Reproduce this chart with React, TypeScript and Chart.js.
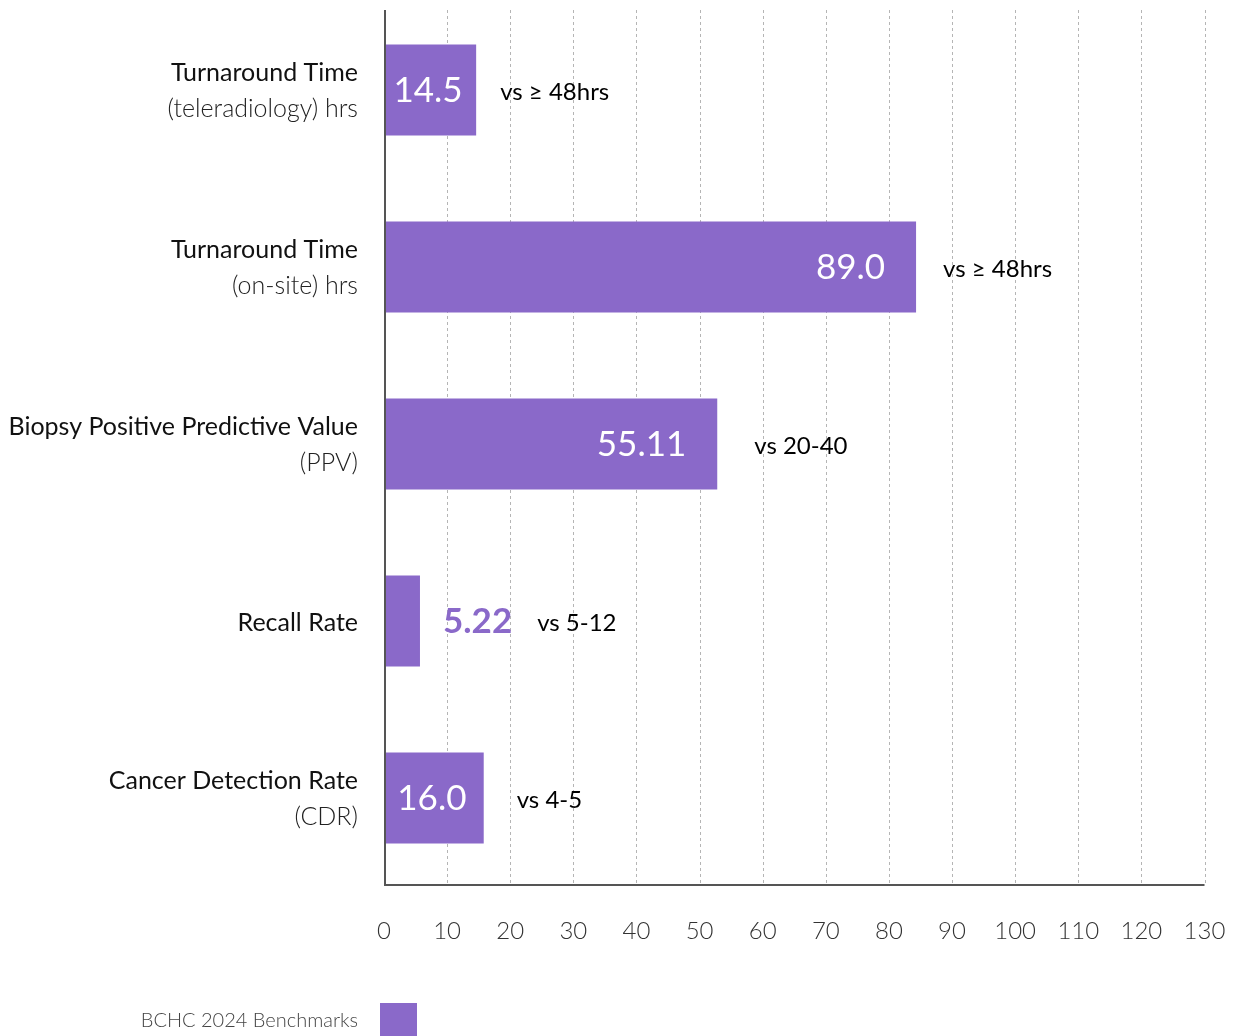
import { useEffect, useRef } from "react";
import { Chart, registerables } from "chart.js";

Chart.register(...registerables);

// ---------------- data ----------------
const categoryTitles = [
  "Turnaround Time",
  "Turnaround Time",
  "Biopsy Positive Predictive Value",
  "Recall Rate",
  "Cancer Detection Rate",
];
const categorySubtitles = ["(teleradiology) hrs", "(on-site) hrs", "(PPV)", "", "(CDR)"];
const barValues = [14.6, 84.3, 52.8, 5.7, 15.8];
const valueLabels = ["14.5", "89.0", "55.11", "5.22", "16.0"];
const benchmarkLabels = ["vs ≥ 48hrs", "vs ≥ 48hrs", "vs 20-40", "vs 5-12", "vs 4-5"];
const xTickValues = [0, 10, 20, 30, 40, 50, 60, 70, 80, 90, 100, 110, 120, 130];
const seriesName = "BCHC 2024 Benchmarks";

// ---------------- styles ----------------
const FONT = "Lato, 'Open Sans', sans-serif";
const BAR_COLOR = "#8A69C9";
const benchmarkGaps = [24, 27, 37, 25, 33];

const overlayPlugin = {
  id: "overlay",
  beforeDatasetsDraw(chart: any) {
    const { ctx, chartArea } = chart;
    const x = chart.scales.x;
    ctx.save();
    ctx.strokeStyle = "#b5b5b5";
    ctx.lineWidth = 1;
    ctx.setLineDash([3, 3]);
    xTickValues.forEach((v) => {
      if (v === 0) return;
      const px = Math.round(x.getPixelForValue(v)) + 0.5;
      ctx.beginPath();
      ctx.moveTo(px, 10);
      ctx.lineTo(px, chartArea.bottom - 1.5);
      ctx.stroke();
    });
    ctx.restore();
  },
  afterDatasetsDraw(chart: any) {
    const { ctx, chartArea } = chart;
    const x = chart.scales.x;
    const y = chart.scales.y;
    const x0 = x.getPixelForValue(0) + 1;
    const xEnd = x.getPixelForValue(130);
    const axisY = chartArea.bottom - 1.5;
    ctx.save();
    // axes
    ctx.strokeStyle = "#555";
    ctx.lineWidth = 2;
    ctx.setLineDash([]);
    ctx.beginPath();
    ctx.moveTo(x0, 10);
    ctx.lineTo(x0, axisY);
    ctx.lineTo(xEnd, axisY);
    ctx.stroke();

    ctx.textBaseline = "middle";
    // category labels
    categoryTitles.forEach((title, i) => {
      const yc = y.getPixelForValue(i);
      const lx = chartArea.left - 26;
      ctx.textAlign = "right";
      const sub = categorySubtitles[i];
      ctx.fillStyle = "#111";
      ctx.font = `400 25px ${FONT}`;
      if (sub) {
        ctx.fillText(title, lx, yc - 17);
        ctx.fillStyle = "#222";
        ctx.font = `300 25px ${FONT}`;
        ctx.fillText(sub, lx, yc + 19);
      } else {
        ctx.fillText(title, lx, yc + 2);
      }
    });

    // value & benchmark labels
    barValues.forEach((v, i) => {
      const yc = y.getPixelForValue(i);
      const start = x.getPixelForValue(0);
      const end = x.getPixelForValue(v);
      const w = end - start;
      let textEnd = end;
      if (w > 200) {
        ctx.font = `400 35px ${FONT}`;
        ctx.fillStyle = "#fff";
        ctx.textAlign = "right";
        ctx.fillText(valueLabels[i], end - 31, yc + 1);
      } else if (w > 60) {
        ctx.font = `400 35px ${FONT}`;
        ctx.fillStyle = "#fff";
        ctx.textAlign = "center";
        ctx.fillText(valueLabels[i], (start + end) / 2 - 2, yc + 1);
      } else {
        ctx.font = `700 35px ${FONT}`;
        ctx.fillStyle = BAR_COLOR;
        ctx.textAlign = "left";
        const lx = end + 23;
        ctx.fillText(valueLabels[i], lx, yc + 1);
        textEnd = lx + ctx.measureText(valueLabels[i]).width;
      }
      ctx.font = `400 24px ${FONT}`;
      ctx.fillStyle = "#000";
      ctx.textAlign = "left";
      ctx.fillText(benchmarkLabels[i], textEnd + benchmarkGaps[i], yc + 2);
    });

    // legend
    const legendY = 1021;
    ctx.font = `300 20px ${FONT}`;
    ctx.fillStyle = "#444";
    ctx.textAlign = "right";
    ctx.fillText(seriesName, chartArea.left - 26, legendY);
    ctx.fillStyle = BAR_COLOR;
    ctx.fillRect(chartArea.left - 4, 1003, 37, 37);
    ctx.restore();
  },
};

export default function App() {
  const ref = useRef<HTMLCanvasElement | null>(null);
  useEffect(() => {
    if (!ref.current) return;
    const chart = new Chart(ref.current, {
      type: "bar",
      data: {
        labels: categoryTitles,
        datasets: [
          {
            label: seriesName,
            data: barValues,
            backgroundColor: BAR_COLOR,
            borderWidth: 0,
            barPercentage: 0.514,
            categoryPercentage: 1,
          },
        ],
      },
      options: {
        indexAxis: "y",
        responsive: false,
        animation: false,
        layout: { padding: { top: 1.5, right: 28.5, left: 0, bottom: 0 } },
        plugins: { legend: { display: false }, tooltip: { enabled: false } },
        scales: {
          x: {
            type: "linear",
            min: 0,
            max: 130,
            afterBuildTicks: (scale: any) => {
              scale.ticks = xTickValues.map((v) => ({ value: v }));
            },
            ticks: {
              font: { family: FONT, size: 24, weight: "300" },
              color: "#333",
              padding: 30,
              maxRotation: 0,
              autoSkip: false,
            },
            grid: { display: false, drawTicks: false },
            border: { display: false },
            afterFit: (scale: any) => {
              scale.height = 149.5;
              scale.paddingLeft = 0;
              scale.paddingRight = 0;
            },
          },
          y: {
            type: "category",
            ticks: { display: false },
            grid: { display: false, drawTicks: false },
            border: { display: false },
            afterFit: (scale: any) => {
              scale.width = 384;
              scale.paddingTop = 0;
              scale.paddingBottom = 0;
            },
          },
        },
      } as any,
      plugins: [overlayPlugin],
    });
    return () => chart.destroy();
  }, []);
  return (
    <div style={{ position: "absolute", left: 0, top: 0, width: 1233, height: 1036 }}>
      <canvas ref={ref} width={1233} height={1036} style={{ display: "block" }} />
    </div>
  );
}
